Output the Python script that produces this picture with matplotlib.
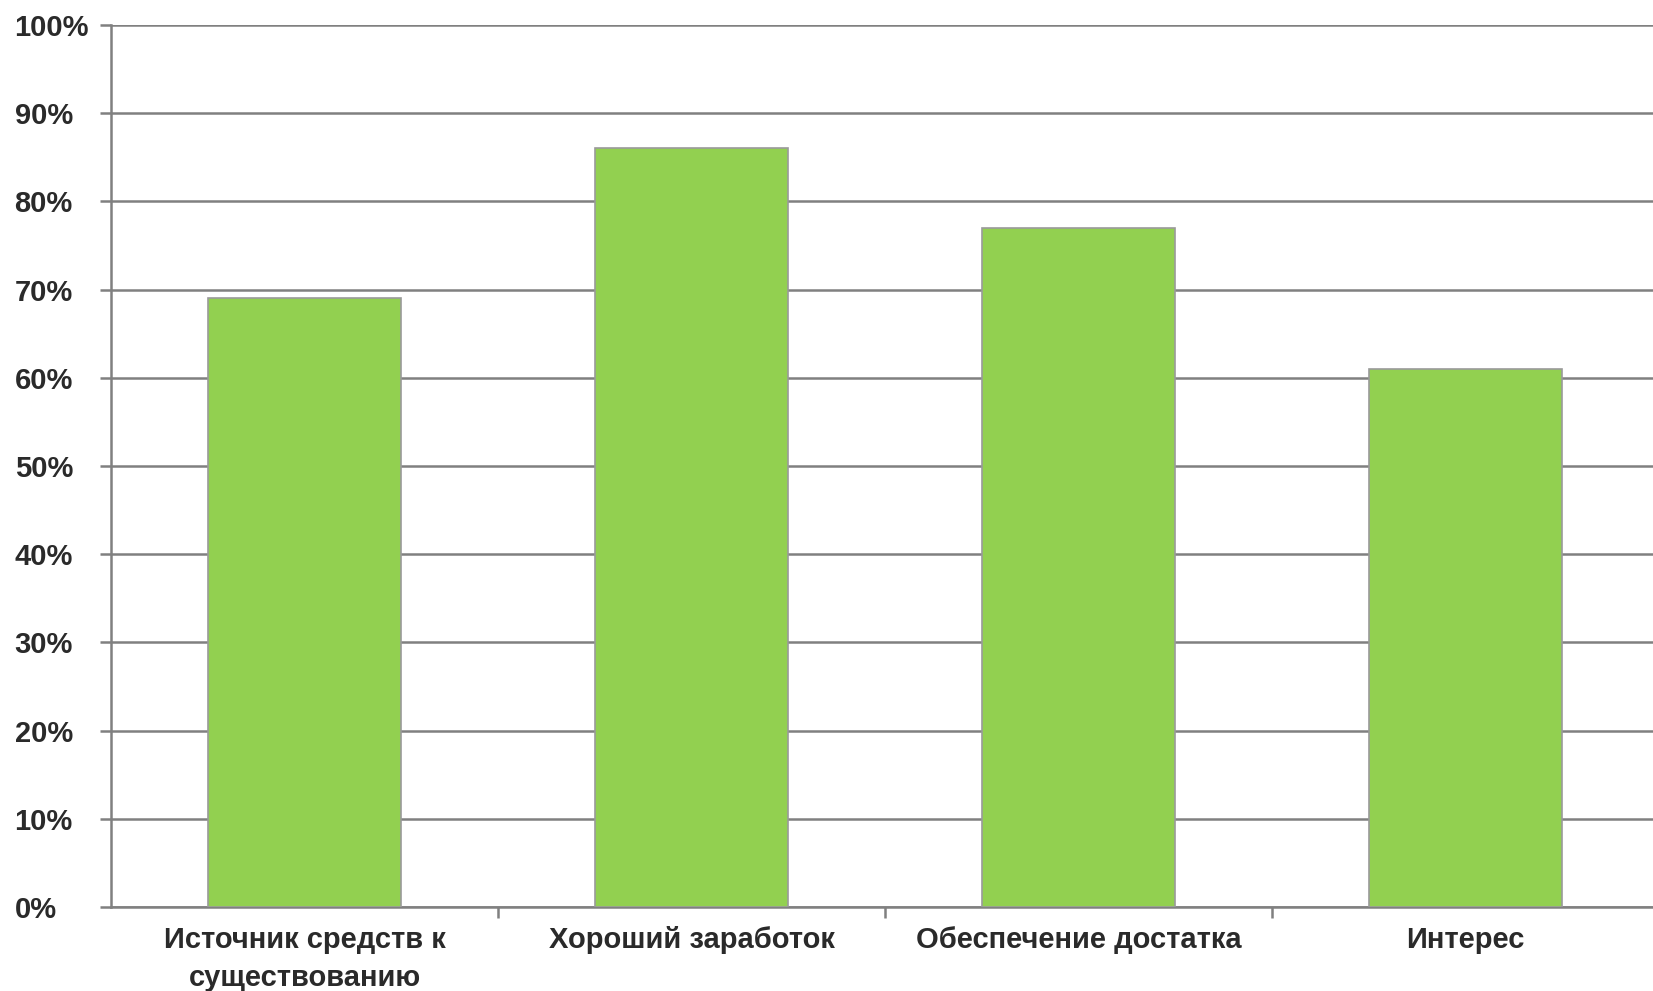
import matplotlib
matplotlib.use("Agg")
import matplotlib.pyplot as plt
from matplotlib.ticker import MultipleLocator, FuncFormatter

categories = ["Источник средств к\nсуществованию", "Хороший заработок",
              "Обеспечение достатка", "Интерес"]
values = [69, 86, 77, 61]

plt.rcParams['font.family'] = ['Liberation Sans', 'DejaVu Sans']

fig = plt.figure(figsize=(16.53, 9.91), dpi=100)
ax = fig.add_axes([0.0672, 0.0848, 0.9364, 0.890])

grid_c = "#808080"
x = range(len(categories))
ax.bar(x, values, width=0.5, color="#92D050", edgecolor="#9a9a9a", linewidth=1.2, zorder=3)

ax.set_xlim(-0.5, len(categories) - 0.5)
ax.set_ylim(0, 100)
ax.yaxis.set_major_locator(MultipleLocator(10))
ax.yaxis.set_major_formatter(FuncFormatter(lambda v, p: f"{v:.0f}%"))
ax.grid(axis="y", color=grid_c, linewidth=1.8, zorder=0)

ax.set_xticks(list(x))
ax.set_xticklabels(categories, fontsize=21, fontweight="bold", color="#2a2a2a",
                   linespacing=1.45)
ax.set_xticks([i + 0.5 for i in range(len(categories) - 1)], minor=True)
ax.tick_params(axis="x", which="major", length=0, pad=14)
ax.tick_params(axis="x", which="minor", length=8, width=1.8, color=grid_c)
ax.tick_params(axis="y", length=8, width=1.8, color=grid_c, labelsize=21,
               labelcolor="#2a2a2a", pad=61.5)
for lab in ax.get_yticklabels():
    lab.set_fontweight("bold")
    lab.set_horizontalalignment("left")

for side in ["top", "right"]:
    ax.spines[side].set_visible(False)
for side in ["left", "bottom"]:
    ax.spines[side].set_color(grid_c)
    ax.spines[side].set_linewidth(1.8)

fig.savefig("out.png", dpi=100)
